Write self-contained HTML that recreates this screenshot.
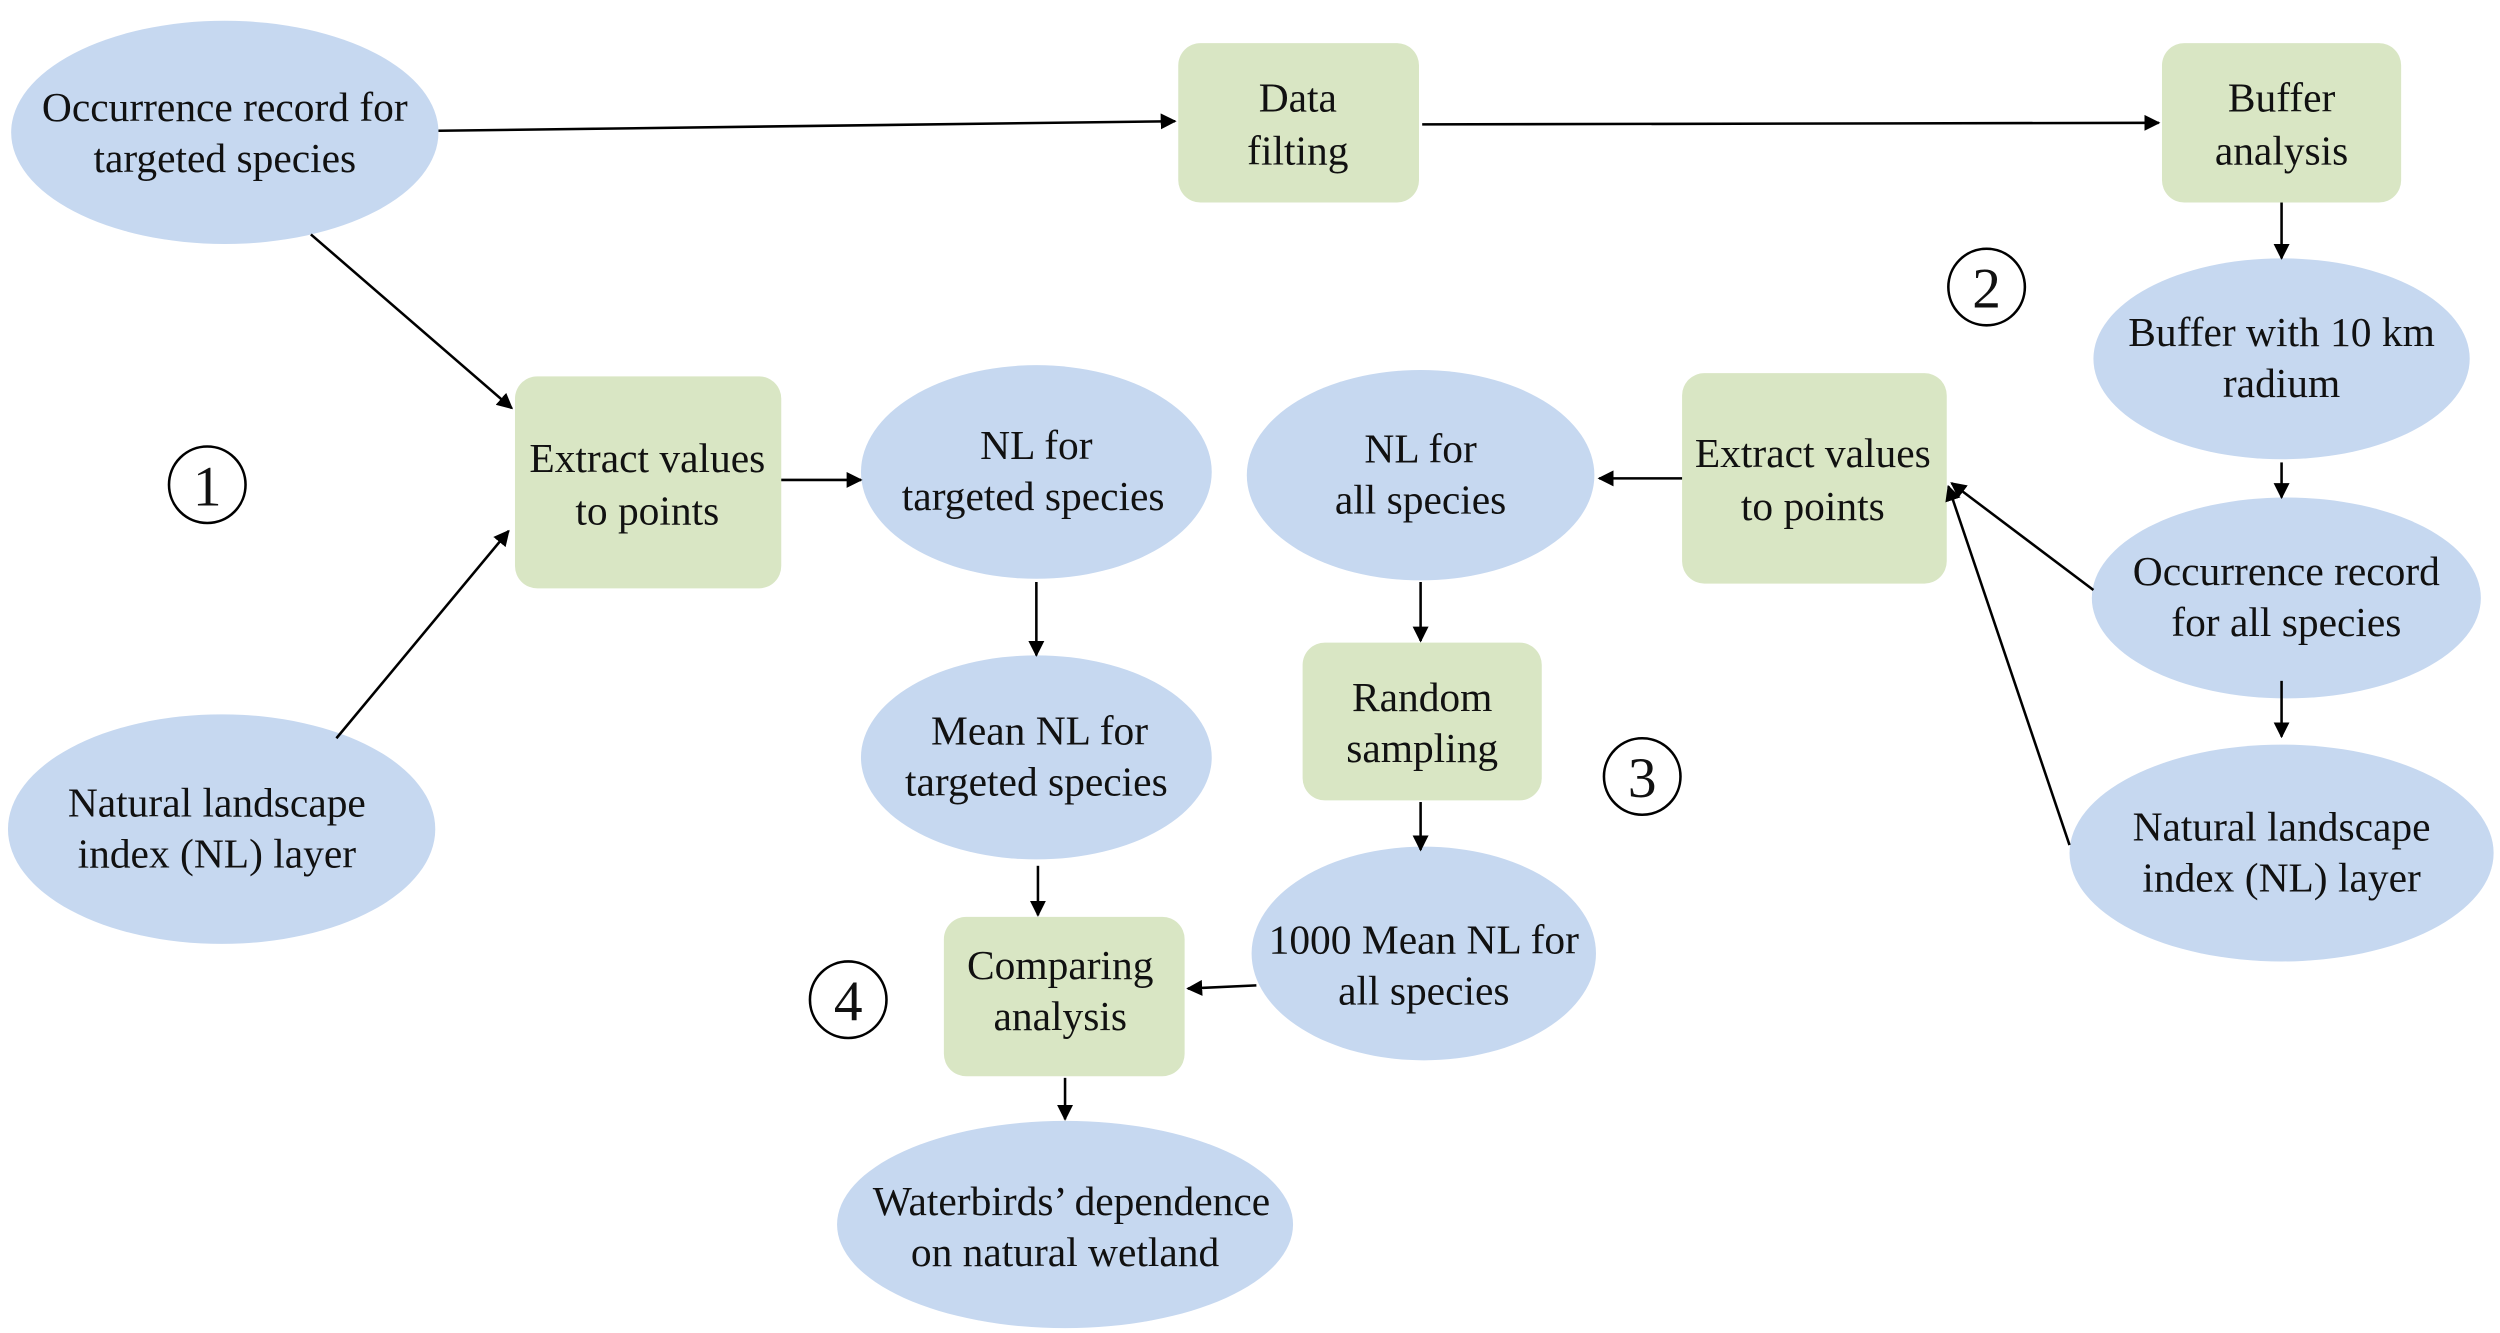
<!DOCTYPE html>
<html><head><meta charset="utf-8"><style>
html,body{margin:0;padding:0;background:#fff;}
svg{display:block;}
text{font-family:"Liberation Serif","DejaVu Serif",serif;font-size:26px;fill:#111;text-anchor:middle;}
.c{font-size:36px;}
</style></head><body>
<svg width="2500" height="1333" viewBox="0 0 1568 836" xmlns="http://www.w3.org/2000/svg">
<defs><marker id="a" markerWidth="10" markerHeight="10" refX="9" refY="5" orient="auto" markerUnits="userSpaceOnUse"><path d="M0,0 L10,5 L0,10 z" fill="#000"/></marker></defs>
<g fill="#c6d8f0">
<ellipse cx="141" cy="83" rx="134" ry="70"/>
<ellipse cx="1431" cy="225" rx="118" ry="63"/>
<ellipse cx="1434" cy="375" rx="122" ry="63"/>
<ellipse cx="1431" cy="535" rx="133" ry="68"/>
<ellipse cx="891" cy="298" rx="109" ry="66"/>
<ellipse cx="893" cy="598" rx="108" ry="67"/>
<ellipse cx="668" cy="768" rx="143" ry="65"/>
<ellipse cx="650" cy="475" rx="110" ry="64"/>
<ellipse cx="650" cy="296" rx="110" ry="67"/>
<ellipse cx="139" cy="520" rx="134" ry="72"/>
</g>
<g fill="#d9e6c4">
<rect x="739" y="27" width="151" height="100" rx="14"/>
<rect x="1356" y="27" width="150" height="100" rx="14"/>
<rect x="1055" y="234" width="166" height="132" rx="14"/>
<rect x="817" y="403" width="150" height="99" rx="14"/>
<rect x="592" y="575" width="151" height="100" rx="14"/>
<rect x="323" y="236" width="167" height="133" rx="14"/>
</g>
<g stroke="#000" stroke-width="1.6" marker-end="url(#a)">
<line x1="275" y1="82" x2="737" y2="76"/>
<line x1="892" y1="78" x2="1354" y2="77"/>
<line x1="1431" y1="127" x2="1431" y2="162"/>
<line x1="1431" y1="290" x2="1431" y2="312"/>
<line x1="1431" y1="427" x2="1431" y2="462"/>
<line x1="1313" y1="370" x2="1224" y2="303"/>
<line x1="1298" y1="530" x2="1222" y2="305"/>
<line x1="1055" y1="300" x2="1003" y2="300"/>
<line x1="891" y1="365" x2="891" y2="402"/>
<line x1="891" y1="503" x2="891" y2="533"/>
<line x1="788" y1="618" x2="745" y2="620"/>
<line x1="651" y1="543" x2="651" y2="574"/>
<line x1="668" y1="676" x2="668" y2="702"/>
<line x1="650" y1="365" x2="650" y2="411"/>
<line x1="490" y1="301" x2="540" y2="301"/>
<line x1="195" y1="147" x2="321" y2="256"/>
<line x1="211" y1="463" x2="319" y2="333"/>
</g>
<text x="141" y="76">Occurrence record for</text><text x="141" y="108">targeted species</text>
<text x="814" y="70">Data</text><text x="814" y="103">filting</text>
<text x="1431" y="70">Buffer</text><text x="1431" y="103">analysis</text>
<text x="1431" y="217">Buffer with 10 km</text><text x="1431" y="249">radium</text>
<text x="1434" y="367">Occurrence record</text><text x="1434" y="399">for all species</text>
<text x="1431" y="527">Natural landscape</text><text x="1431" y="559">index (NL) layer</text>
<text x="1137" y="293">Extract values</text><text x="1137" y="326">to points</text>
<text x="891" y="290">NL for</text><text x="891" y="322">all species</text>
<text x="892" y="446">Random</text><text x="892" y="478">sampling</text>
<text x="893" y="598">1000 Mean NL for</text><text x="893" y="630">all species</text>
<text x="665" y="614">Comparing</text><text x="665" y="646">analysis</text>
<text x="672" y="762">Waterbirds’ dependence</text><text x="668" y="794">on natural wetland</text>
<text x="652" y="467">Mean NL for</text><text x="650" y="499">targeted species</text>
<text x="650" y="288">NL for</text><text x="648" y="320">targeted species</text>
<text x="406" y="296">Extract values</text><text x="406" y="329">to points</text>
<text x="136" y="512">Natural landscape</text><text x="136" y="544">index (NL) layer</text>
<g fill="none" stroke="#000" stroke-width="1.6">
<circle cx="130" cy="304" r="24"/>
<circle cx="1246" cy="180" r="24"/>
<circle cx="1030" cy="487" r="24"/>
<circle cx="532" cy="627" r="24"/>
</g>
<text class="c" x="130" y="317">1</text>
<text class="c" x="1246" y="193">2</text>
<text class="c" x="1030" y="500">3</text>
<text class="c" x="532" y="640">4</text>
</svg>
</body></html>
